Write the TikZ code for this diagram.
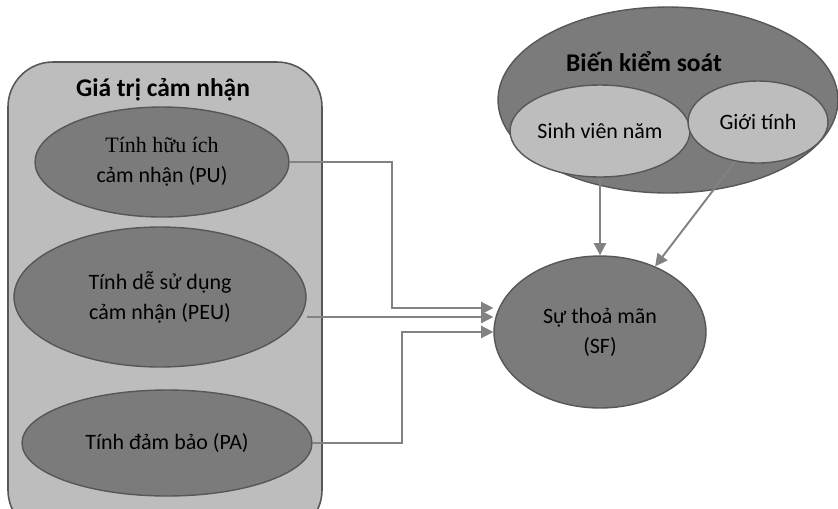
\documentclass[tikz,border=0pt]{standalone}
\usepackage{fontspec}
\setmainfont{Carlito}
\newfontfamily\serifvn{Liberation Serif}
\usetikzlibrary{shapes.geometric,arrows.meta,positioning}
\definecolor{lightfill}{HTML}{BDBDBD}
\definecolor{darkfill}{HTML}{7B7B7B}
\definecolor{edgegray}{HTML}{575757}
\definecolor{linkgray}{HTML}{828282}

\tikzset{
  factor/.style={ellipse, draw=edgegray, fill=darkfill, line width=0.8pt, align=center, inner sep=0pt, font=\fontsize{12.5}{17}\selectfont},
  subvar/.style={factor, fill=lightfill},
  heading/.style={font=\fontsize{14.5}{17}\selectfont\bfseries},
  link/.style={draw=linkgray, line width=1.1pt, -{Triangle[length=7pt,width=7pt]}},
}

\begin{document}
\begin{tikzpicture}[x=0.02cm, y=-0.02cm]
  \clip (0,0) rectangle (838,508);

  % Perceived value group
  \draw[draw=edgegray, fill=lightfill, line width=0.9pt, rounded corners=0.9cm] (8,62) rectangle (322,535);
  \node[heading] (gtcn) at (163,90) {Giá trị cảm nhận};
  \node[factor, minimum width=5.08cm, minimum height=2.2cm] (pu) at (162,162) {{\serifvn Tính hữu ích}\\cảm nhận (PU)};
  \node[factor, minimum width=5.84cm, minimum height=2.8cm] (peu) at (160,297) {Tính dễ sử dụng\\cảm nhận (PEU)};
  \node[factor, minimum width=5.8cm, minimum height=2.12cm] (pa) at (167,443) {Tính đảm bảo (PA)};

  % Control variables
  \node[factor, minimum width=6.8cm, minimum height=3.72cm] (bks) at (668,100) {};
  \node[heading] (bkstitle) at (644,62) {Biến kiểm soát};
  \node[subvar, minimum width=3.6cm, minimum height=1.84cm] (sinh) at (600,131) {Sinh viên năm};
  \node[subvar, minimum width=2.8cm, minimum height=1.64cm] (gioi) at (758,122) {Giới tính};

  % Satisfaction
  \node[factor, minimum width=4.24cm, minimum height=3.04cm] (sf) at (600,332) {Sự thoả mãn\\(SF)};

  % Links
  \draw[link] (pu.east) -| (392,308) -- (sf.west |- 0,308);
  \draw[link] (peu.east |- 0,317) -- (sf.west |- 0,317);
  \draw[link] (pa.east) -| (402,332) -- (sf.west);
  \draw[link] (sinh.south) -- (sf.north);
  \draw[link] (gioi.-120) -- (sf.50);
\end{tikzpicture}
\end{document}
